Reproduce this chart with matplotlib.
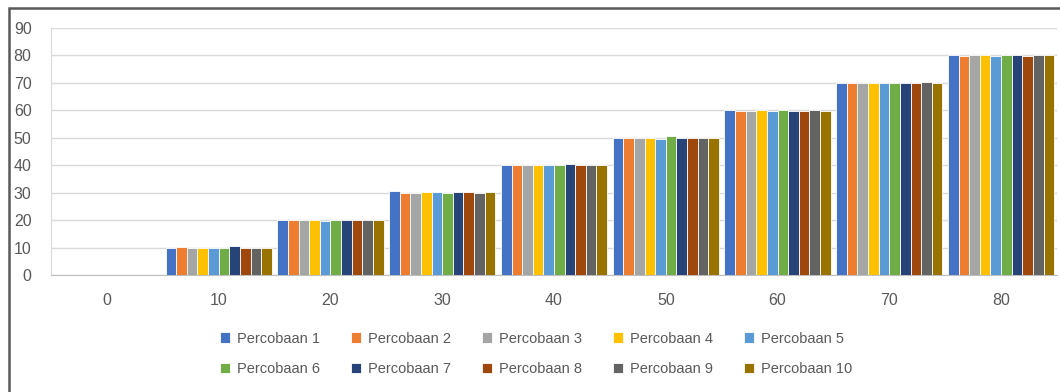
import matplotlib.pyplot as plt
import numpy as np
from matplotlib.patches import Rectangle

# jumlah data per kategori (sumbu x) dan hasil tiap percobaan
categories = ["0", "10", "20", "30", "40", "50", "60", "70", "80"]
series_names = ["Percobaan %d" % i for i in range(1, 11)]

p1 = [0, 10.0, 20.0, 30.6, 39.9, 50.0, 60.1, 70.0, 80.1]
p2 = [0, 10.3, 20.0, 29.9, 40.0, 50.0, 59.6, 70.0, 79.8]
p3 = [0, 10.0, 20.0, 30.0, 40.0, 50.0, 59.9, 70.0, 80.0]
p4 = [0, 10.0, 20.0, 30.1, 40.2, 50.0, 60.1, 70.0, 80.1]
p5 = [0, 10.0, 19.8, 30.1, 40.0, 49.6, 59.8, 70.0, 79.8]
p6 = [0, 10.0, 20.0, 29.8, 39.9, 50.5, 60.1, 70.0, 80.1]
p7 = [0, 10.4, 20.1, 30.1, 40.6, 50.0, 59.8, 70.0, 80.1]
p8 = [0, 10.0, 20.0, 30.1, 39.9, 50.0, 59.8, 70.0, 79.8]
p9 = [0, 10.0, 20.0, 29.8, 39.9, 50.0, 60.1, 70.4, 80.1]
p10 = [0, 10.0, 20.0, 30.1, 39.9, 50.0, 59.8, 69.8, 80.1]

colors = ["#4472C4", "#ED7D31", "#A5A5A5", "#FFC000", "#5B9BD5",
          "#70AD47", "#264478", "#9E480E", "#636363", "#997300"]

all_series = [p1, p2, p3, p4, p5, p6, p7, p8, p9, p10]

plt.rcParams["font.family"] = ["Liberation Sans", "DejaVu Sans"]

fig = plt.figure(figsize=(10.6, 3.92), dpi=100)
ax = fig.add_axes([51 / 1060, 1 - 275 / 392, 1006 / 1060, 247 / 392])

x = np.arange(len(categories))
n = len(all_series)
group_w = 0.95
bar_w = group_w / n
handles = []
for i, (vals, name, c) in enumerate(zip(all_series, series_names, colors)):
    offs = -group_w / 2 + bar_w * (i + 0.5)
    b = ax.bar(x + offs, vals, width=bar_w, color=c, label=name,
               edgecolor="white", linewidth=0.6, zorder=3)
    handles.append(b)

ax.set_xlim(-0.5, len(categories) - 0.5)
ax.set_ylim(0, 90)
ax.set_yticks(np.arange(0, 91, 10))
ax.set_xticks(x)
ax.set_xticklabels(categories)

ax.grid(axis="y", color="#D9D9D9", linewidth=1, zorder=0)
for s in ["top", "right"]:
    ax.spines[s].set_visible(False)
ax.spines["bottom"].set_color("#BFBFBF")
ax.spines["left"].set_color("#D9D9D9")
ax.tick_params(axis="both", length=0, labelsize=11.5, colors="#595959")
ax.tick_params(axis="y", pad=14)
ax.tick_params(axis="x", pad=13)

# legenda diisi per baris: 1-5 di atas, 6-10 di bawah
order = [0, 5, 1, 6, 2, 7, 3, 8, 4, 9]
fig.legend([handles[k] for k in order], [series_names[k] for k in order],
           loc="center", bbox_to_anchor=(536 / 1060, 1 - 354 / 392), ncol=5,
           frameon=False, fontsize=10.5, handlelength=0.7, handleheight=0.7,
           handletextpad=0.45, columnspacing=2.15, labelspacing=1.15,
           labelcolor="#595959")

# bingkai luar grafik
fig.patches.append(Rectangle((9 / 1060, -0.1), 1.2, 1.1 - 8 / 392,
                             transform=fig.transFigure, fill=False,
                             edgecolor="#595959", linewidth=1.8))

fig.savefig("out.png", dpi=100)
